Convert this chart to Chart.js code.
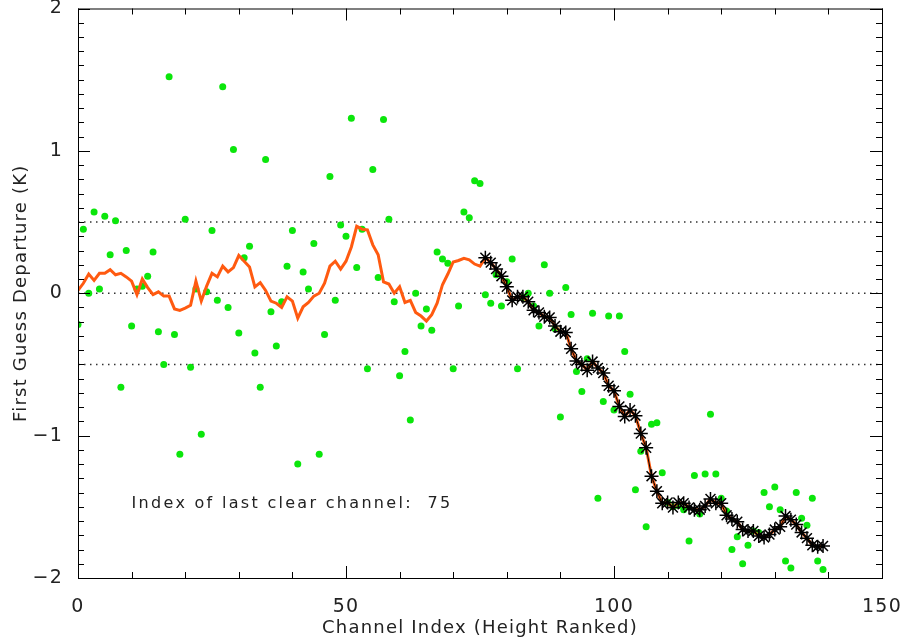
<!DOCTYPE html>
<html>
<head>
<meta charset="utf-8">
<title>First Guess Departure</title>
<script src="https://cdn.jsdelivr.net/npm/chart.js@4.4.1/dist/chart.umd.min.js"></script>
<style>
  html, body { margin: 0; padding: 0; background: #fff; }
  #chart { display: block; }
</style>
</head>
<body>
<canvas id="chart" width="902" height="642"></canvas>
<script>
// Channels are height ranked, index 0 .. 139
const LAST_CLEAR_CHANNEL = 75;

// Raw first guess departure per channel (K)
const departures = [
  -0.22, 0.45, 0.00, 0.57, 0.03, 0.54, 0.27, 0.51, -0.66, 0.30,
  -0.23, 0.03, 0.05, 0.12, 0.29, -0.27, -0.50, 1.52, -0.29, -1.13,
  0.52, -0.52, 0.03, -0.99, 0.01, 0.44, -0.05, 1.45, -0.10, 1.01,
  -0.28, 0.25, 0.33, -0.42, -0.66, 0.94, -0.13, -0.37, -0.06, 0.19,
  0.44, -1.20, 0.15, 0.03, 0.35, -1.13, -0.29, 0.82, -0.05, 0.48,
  0.40, 1.23, 0.18, 0.45, -0.53, 0.87, 0.11, 1.22, 0.52, -0.06,
  -0.58, -0.41, -0.89, 0.00, -0.23, -0.11, -0.26, 0.29, 0.24, 0.21,
  -0.53, -0.09, 0.57, 0.53, 0.79, 0.77, -0.01, -0.07, 0.13, -0.09,
  0.08, 0.24, -0.53, -0.03, 0.00, -0.09, -0.23, 0.20, 0.00, -0.25,
  -0.87, 0.04, -0.15, -0.55, -0.69, -0.46, -0.14, -1.44, -0.76, -0.16,
  -0.82, -0.16, -0.41, -0.71, -1.38, -1.11, -1.64, -0.92, -0.91, -1.26,
  -1.47, -1.50, -1.49, -1.52, -1.74, -1.28, -1.55, -1.27, -0.85, -1.27,
  -1.44, -1.53, -1.80, -1.71, -1.90, -1.77, -1.67, -1.68, -1.40, -1.50,
  -1.36, -1.52, -1.88, -1.93, -1.40, -1.58, -1.63, -1.44, -1.88, -1.94
];

// Running-mean of the departures (K)
const smoothed = [
  0.02, 0.07, 0.135, 0.09, 0.14, 0.14, 0.165, 0.13, 0.14, 0.115,
  0.085, -0.01, 0.10, 0.04, -0.01, 0.01, -0.02, -0.02, -0.11, -0.12,
  -0.105, -0.085, 0.085, -0.055, 0.05, 0.14, 0.115, 0.19, 0.15, 0.18,
  0.265, 0.225, 0.185, 0.045, 0.075, 0.02, -0.055, -0.07, -0.10, -0.025,
  -0.055, -0.175, -0.095, -0.065, -0.02, 0.00, 0.07, 0.19, 0.225, 0.17,
  0.225, 0.325, 0.47, 0.45, 0.445, 0.34, 0.27, 0.08, 0.065, 0.00,
  0.045, -0.065, -0.05, -0.135, -0.16, -0.195, -0.15, -0.07, 0.06, 0.135,
  0.22, 0.23, 0.245, 0.235, 0.205, 0.19, 0.25, 0.215, 0.17, 0.12,
  0.045, -0.05, -0.025, -0.025, -0.06, -0.12, -0.135, -0.165, -0.17, -0.23,
  -0.27, -0.275, -0.39, -0.475, -0.50, -0.54, -0.48, -0.525, -0.56, -0.65,
  -0.685, -0.795, -0.865, -0.82, -0.86, -0.985, -1.085, -1.285, -1.39, -1.475,
  -1.47, -1.505, -1.47, -1.475, -1.505, -1.52, -1.52, -1.495, -1.445, -1.475,
  -1.475, -1.56, -1.585, -1.605, -1.66, -1.67, -1.67, -1.705, -1.715, -1.695,
  -1.66, -1.64, -1.565, -1.59, -1.625, -1.68, -1.72, -1.77, -1.78, -1.775
];

const dottedLevels = [0.5, 0, -0.5];
const xTicks = [0, 50, 100, 150];
const yTicks = [-2, -1, 0, 1, 2];

const rawPoints = departures.map((v, i) => ({ x: i, y: v }));
const smoothPoints = smoothed.map((v, i) => ({ x: i, y: v }));
const cloudyPoints = smoothPoints.filter(p => p.x > LAST_CLEAR_CHANNEL);

const dottedSets = dottedLevels.map(level => ({
    type: 'line',
    data: [{ x: xTicks[0], y: level }, { x: xTicks[xTicks.length - 1], y: level }],
    borderColor: '#333',
    borderWidth: 1.4,
    borderDash: [1.5, 4.5],
    pointRadius: 0,
    order: 3
}));

const textColor = '#222';
Chart.defaults.font.family = '"DejaVu Sans", sans-serif';

// wider letter spacing for all axis text
const spacedText = {
    id: 'spacedText',
    beforeDraw(chart) {
        chart.ctx.letterSpacing = '1.2px';
    }
};

// box round the plot with inward ticks on all four sides, plus the note
const frameTicks = {
    id: 'frameTicks',
    afterDraw(chart) {
        const { ctx, chartArea: a, scales: { x, y } } = chart;
        ctx.save();
        ctx.strokeStyle = '#000';
        ctx.lineWidth = 1;
        ctx.strokeRect(a.left + 0.5, a.top + 0.5, a.right - a.left, a.bottom - a.top);
        ctx.beginPath();
        for (let v = 0; v <= 150; v += 10) {
            const px = Math.round(x.getPixelForValue(v)) + 0.5;
            const len = v % 50 === 0 ? 12 : 6;
            ctx.moveTo(px, a.bottom); ctx.lineTo(px, a.bottom - len);
            ctx.moveTo(px, a.top); ctx.lineTo(px, a.top + len);
        }
        for (let k = -20; k <= 20; k++) {
            const py = Math.round(y.getPixelForValue(k / 10)) + 0.5;
            const len = k % 10 === 0 ? 12 : 6;
            ctx.moveTo(a.left, py); ctx.lineTo(a.left + len, py);
            ctx.moveTo(a.right, py); ctx.lineTo(a.right - len, py);
        }
        ctx.stroke();

        ctx.font = '16px "DejaVu Sans"';
        ctx.letterSpacing = '2.3px';
        ctx.fillStyle = textColor;
        ctx.textBaseline = 'alphabetic';
        ctx.textAlign = 'left';
        ctx.fillText('Index of last clear channel:  ' + LAST_CLEAR_CHANNEL,
            x.getPixelForValue(10), y.getPixelForValue(-1.51));
        ctx.restore();
    }
};

new Chart(document.getElementById('chart'), {
    type: 'scatter',
    data: {
        datasets: [
            {
                type: 'line',
                data: cloudyPoints,
                borderColor: '#000',
                borderWidth: 1,
                pointStyle: 'star',
                pointRadius: 7,
                pointBorderWidth: 1.5,
                pointBorderColor: '#000',
                pointBackgroundColor: '#000',
                order: 0
            },
            {
                type: 'line',
                data: smoothPoints,
                borderColor: '#ff5a10',
                borderWidth: 3,
                pointRadius: 0,
                order: 1
            },
            {
                data: rawPoints,
                pointRadius: 3.5,
                pointBorderWidth: 0,
                pointBackgroundColor: '#0be60b',
                order: 2
            },
            ...dottedSets
        ]
    },
    options: {
        responsive: false,
        animation: false,
        devicePixelRatio: 1,
        layout: { padding: { top: 8, right: 20, left: 0, bottom: 0 } },
        plugins: { legend: { display: false }, tooltip: { enabled: false } },
        scales: {
            x: {
                type: 'linear',
                min: 0,
                max: 150,
                grid: { display: false },
                border: { display: false },
                afterBuildTicks: s => { s.ticks = xTicks.map(v => ({ value: v })); },
                afterFit: s => { s.height = 64; s.paddingLeft = 0; s.paddingRight = 0; },
                ticks: { padding: 10, color: textColor, font: { size: 19 }, maxRotation: 0, autoSkip: false },
                title: {
                    display: true,
                    text: 'Channel Index (Height Ranked)',
                    color: textColor,
                    font: { size: 18 },
                    padding: { top: 0, bottom: 3 }
                }
            },
            y: {
                type: 'linear',
                min: -2,
                max: 2,
                grid: { display: false },
                border: { display: false },
                afterBuildTicks: s => { s.ticks = yTicks.map(v => ({ value: v })); },
                afterFit: s => { s.width = 78; s.paddingTop = 0; s.paddingBottom = 0; },
                ticks: {
                    padding: 7,
                    color: textColor,
                    font: { size: 19 },
                    callback: v => v < 0 ? '\u2212' + Math.abs(v) : String(v)
                },
                title: {
                    display: true,
                    text: 'First Guess Departure (K)',
                    color: textColor,
                    font: { size: 18 },
                    padding: { top: 11, bottom: 0 }
                }
            }
        }
    },
    plugins: [spacedText, frameTicks]
});
</script>
</body>
</html>
